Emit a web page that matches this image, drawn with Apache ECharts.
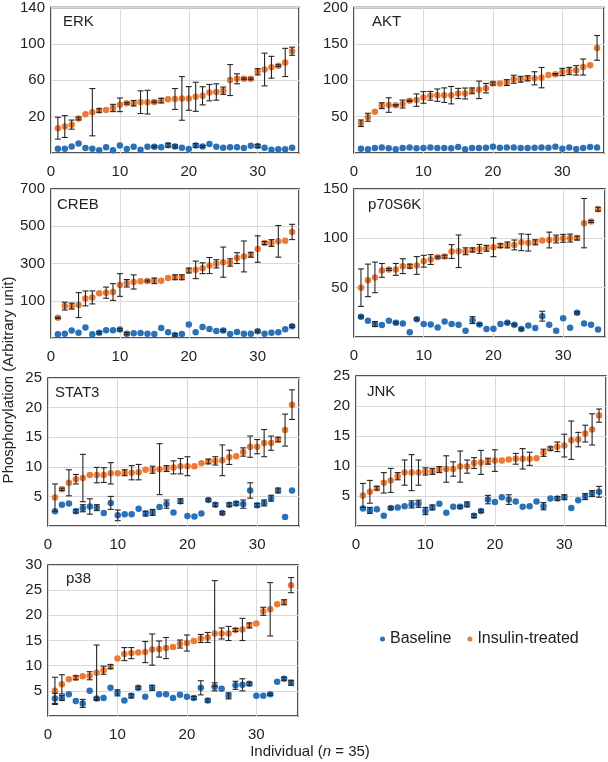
<!DOCTYPE html>
<html><head><meta charset="utf-8">
<script src="https://cdn.jsdelivr.net/npm/echarts@6/dist/echarts.min.js"></script>
<style>html,body{margin:0;padding:0;background:#fff}#c{width:608px;height:762px}</style>
</head><body><div id="c"></div>
<script>
const individuals = [1,2,3,4,5,6,7,8,9,10,11,12,13,14,15,16,17,18,19,20,21,22,23,24,25,26,27,28,29,30,31,32,33,34,35];
const panelNames = ['ERK','AKT','CREB','p70S6K','STAT3','JNK','p38'];
const seriesNames = ['Baseline','Insulin-treated'];

const erkIns = [7.3,9.1,11.2,17.9,22.5,24.9,26.7,27.4,29.5,33.0,34.8,34.8,35.9,35.9,36.2,37.6,39.0,39.4,40.0,40.0,41.8,42.9,46.4,47.1,48.5,60.2,61.6,61.6,61.6,69.3,71.8,74.3,76.0,79.6,91.9];
const erkInsErr = [12,12,5,1.5,0,26,2,0,4,7.5,1,3,12.5,13,1,2.5,0,11.5,24,13,16,10,9,9,4,17,5.5,1,1,3.5,18,12,1,15.5,4.5];
const erkBase = [-15.2,-15.2,-12.8,-9.6,-14.5,-15.2,-17,-13.8,-17,-11.7,-15.6,-13.1,-16.3,-13.1,-13.1,-13.8,-11.4,-12.8,-14.2,-15.6,-11.7,-12.8,-10,-13.1,-14.2,-13.8,-13.8,-14.5,-12.1,-12.4,-14.2,-16.3,-15.9,-15.9,-14.2];
const erkBaseErr = [0,0,0,0,0,0,0,0,0,0,0,0,0,0,1,0,2,1.5,0,0,2,1,0,0,0,0,0,0,0,1.5,0,0,0,0,0];

const aktIns = [40.9,49.1,56.8,65.0,65.9,65.5,67.3,71.8,72.7,76.4,78.6,79.5,79.5,79.5,81.8,81.8,85.5,86.8,89.1,95.5,95.5,96.8,101.4,101.4,102.7,102.7,103.6,107.3,108.2,111.4,112.7,113.6,118.2,120.5,144.5];
const aktInsErr = [4.5,5.5,0,4,10,1,5.5,1,8.5,8,6,8.5,10,12,7,7.5,4,12,6.5,2,0,4,5.5,4,3.5,9,14,0,1,5,5,6.5,11,0,17];
const aktBase = [5.9,5.0,6.8,7.7,6.4,5.0,6.8,7.7,6.4,6.8,7.7,6.8,6.8,6.4,8.2,5.0,6.8,6.8,7.3,8.6,7.3,7.7,7.7,6.8,6.8,7.3,7.7,7.3,8.6,5.9,7.7,5.5,6.8,8.2,7.7];
const aktBaseErr = [0,0,0,0,0,0,0,0,0,0,0,0,0,0,0,0,0,0,0,0,0,0,0,0,0,0,0,0,0,0,0,0,0,0,0];

const crebIns = [8.1,71.2,71.2,76.6,112.6,118.0,139.6,143.2,146.9,184.7,193.7,200.9,205,206,207,208,222.5,226.1,226.1,262.2,265.8,274.8,289.2,298.2,307.2,305.4,328.9,337.9,346.9,377.5,410.0,410.0,419.0,422.6,469.4];
const crebInsErr = [4,21,16,67,40,35,0,30,45,61,20,38,0,5,15,0,0,13,13,13,47,29,43,22,81,20,29,83,13,71,8,18,85,0,41];
const crebBase = [-80.2,-76.6,-60.4,-71.2,-44.2,-80.2,-71.2,-58.6,-58.6,-55.0,-76.6,-74.8,-73.0,-76.6,-78.4,-46.0,-69.4,-83.8,-78.4,-27.9,-69.4,-40.6,-51.4,-62.2,-60.4,-78.4,-67.6,-76.6,-76.6,-64.0,-76.6,-71.2,-69.4,-53.2,-37.0];
const crebBaseErr = [0,0,0,0,0,0,6,0,0,6,6,0,0,0,0,0,0,6,0,0,0,0,0,0,6,0,0,0,0,6,0,0,0,0,6];

const p70Ins = [50.0,57.4,60.4,67.5,68.5,68.5,71.8,71.8,72.5,76.8,78.5,80.9,81.5,86.6,86.9,86.9,88.3,89.3,89.9,90.9,92.6,93.3,93.3,96.0,95.6,96.0,97.7,98.3,99.3,100.0,100.3,100.3,115.4,117.1,129.5];
const p70InsErr = [19,16.5,15.5,7,1,6,7.5,2,9,6,5,1,1.5,7,16.5,3.5,2,4.5,3,9.5,2,3,5,8.5,8.5,2.5,0,8,4,4,4,2,25,1,2];
const p70Base = [20.5,16.4,13.1,12.1,16.4,14.4,13.8,4.7,18.1,13.1,12.7,9.7,15.8,13.1,12.4,6.4,17.1,12.7,8.0,8.4,13.1,14.4,12.4,8.0,11.7,9.1,21.1,12.4,6.4,19.1,9.4,24.5,13.8,12.4,7.7];
const p70BaseErr = [1,0,2.5,0,0,1,0,0,1,0,0,0,0,0,0,0,3.5,1,0,0,0,1,1,1,0,0,5,0,0,0,0,1,0,0,0];

const stat3Ins = [4.8,6.2,7.3,7.9,8.1,8.6,8.6,8.6,8.9,8.9,9.0,9.0,9.1,9.5,9.5,9.6,9.7,9.9,10.1,10.1,10.1,10.6,10.9,11.0,11.1,11.6,11.8,12.5,13.4,13.4,14.0,14.0,14.6,16.2,20.5];
const stat3InsErr = [2.3,0.2,2.2,0.8,4,0,1.3,1.25,1.8,0,0.5,1.2,1.3,0,0.6,4.3,0.5,1.1,1.3,1.6,0,0,0.4,0.7,2.6,1.2,0,0.7,1.8,1.2,2.3,1.2,0.4,2.7,2.5];
const stat3Base = [2.5,3.6,3.8,2.5,3.0,3.3,3.1,2.2,3.9,1.8,2.0,2.0,2.9,2.1,2.3,3.2,3.7,2.3,4.2,1.7,1.6,2.1,4.4,3.6,2.2,3.6,3.8,3.7,6.0,3.5,3.9,4.7,6.0,1.5,6.0];
const stat3BaseErr = [0,0,0,0.3,0.6,1.3,0.5,0,1.1,0.9,0,0,0,0.4,0.5,0,0.7,0,0.4,0,0,0,0.2,0.3,0.2,0.3,0.3,0.7,1.3,0.3,0.5,0.5,0.4,0,0];

const jnkIns = [5.1,5.7,6.3,7.2,7.6,8.3,8.9,8.9,8.9,9.1,9.1,9.4,9.5,9.5,9.9,9.9,10.5,10.6,10.8,10.9,10.9,11.1,11.2,11.2,11.2,11.3,12.2,12.9,13.2,13.4,14.3,14.4,15.4,16.1,18.4];
const jnkInsErr = [2,1.9,0.3,1.7,2,0.6,2.1,3,2.1,0.6,0.5,0.5,2.2,1.2,2.6,1.1,0.9,2,0.5,1.8,0,0,0.9,1.7,1.1,0,0.6,0.3,0.8,1.9,3.2,1.2,1.4,2.6,1.1];
const jnkBase = [2.9,2.6,2.8,1.7,3.0,3.1,3.3,3.6,3.7,2.5,3.1,3.7,2.2,3.2,3.2,3.6,1.7,2.5,4.4,4.0,4.8,4.4,4.1,3.2,3.3,4.1,3.3,4.6,4.6,4.8,3.0,4.3,4.9,5.4,5.7];
const jnkBaseErr = [0,0.5,0,0,0.2,0,0,0.6,0.6,0.6,0.4,0,0,0,0.2,0.4,0.3,0.2,0.7,0,0,0.8,0,0,0,0,0.6,0,0.3,0.4,0,0,0.5,0.5,0.9];

const p38Ins = [5.0,6.3,7.3,7.6,7.9,8.0,8.6,9.1,9.8,11.4,12.3,12.5,12.6,12.7,13.2,13.3,13.5,13.7,14.3,14.5,14.9,15.4,15.6,16.4,16.4,16.4,17.1,17.2,18.0,18.4,20.8,21.2,22.2,22.6,26.0];
const p38InsErr = [2.7,1.9,0,0.4,0,0.8,5.5,0.8,0.4,0,1.3,1.1,0,2.1,3.1,1.6,2.1,0,0.8,1.6,0,0.8,1,10.5,1.1,1.4,0.3,2.2,0.5,0,0.8,5.3,0,0.5,1.5];
const p38Base = [3.5,3.6,4.3,3.0,2.5,5.0,3.5,3.6,5.6,4.6,3.1,4.0,5.6,3.8,5.6,4.3,4.3,3.6,4.2,3.8,3.6,5.6,3.1,5.8,5.4,4.0,6.1,6.2,6.4,4.0,4.0,4.3,6.8,7.4,6.6];
const p38BaseErr = [1,0.5,0,0,0.8,0,0.2,0,0,0.6,0,0.4,0.3,0,0.5,0,0,0,0,0,0.3,1.4,0.3,0.8,0,0.6,0.8,1.2,0.3,0,0,0.2,0,0.3,0.5];

// y-axis ranges: [min, max, interval]
const yRanges = [[-20,140,40],[0,200,50],[-100,700,200],[0,150,50],[0,25,5],[0,25,5],[0,30,5]];
const xRange = [0,36,10];

const panelData = [
  [erkBase, erkBaseErr, erkIns, erkInsErr],
  [aktBase, aktBaseErr, aktIns, aktInsErr],
  [crebBase, crebBaseErr, crebIns, crebInsErr],
  [p70Base, p70BaseErr, p70Ins, p70InsErr],
  [stat3Base, stat3BaseErr, stat3Ins, stat3InsErr],
  [jnkBase, jnkBaseErr, jnkIns, jnkInsErr],
  [p38Base, p38BaseErr, p38Ins, p38InsErr]
];

// layout (pixels)
const grids = [
  {left:51, top:3, width:248, height:150},
  {left:354, top:4, width:250, height:149},
  {left:51, top:189, width:248, height:149},
  {left:354, top:189, width:251, height:148},
  {left:48, top:378, width:251, height:148},
  {left:356, top:376, width:250, height:150},
  {left:48, top:565, width:250, height:151}
];
const titlePos = [[63,22],[372,22],[57,205],[368,205],[55,393],[367,392],[66,579]];

const BLUE = '#2b71b8', ORANGE = '#ea7a35';
const FONT = 'Liberation Sans, Arial, sans-serif';

function errRender(params, api) {
  const x = api.value(0), lo = api.value(1), hi = api.value(2);
  const p1 = api.coord([x, hi]), p2 = api.coord([x, lo]);
  const w = 3;
  const st = {stroke:'#262626', lineWidth:1.1};
  return {type:'group', children:[
    {type:'line', shape:{x1:p1[0],y1:p1[1],x2:p2[0],y2:p2[1]}, style:st},
    {type:'line', shape:{x1:p1[0]-w,y1:p1[1],x2:p1[0]+w,y2:p1[1]}, style:st},
    {type:'line', shape:{x1:p2[0]-w,y1:p2[1],x2:p2[0]+w,y2:p2[1]}, style:st}
  ]};
}

const option = {
  animation:false,
  textStyle:{fontFamily:FONT},
  grid:[], xAxis:[], yAxis:[], series:[],
  legend:{
    data:seriesNames, left:375, top:626, icon:'circle', itemWidth:5, itemHeight:5, itemGap:16,
    textStyle:{fontSize:16, color:'#222', fontFamily:FONT}
  },
  graphic:[]
};

grids.forEach((g, k) => {
  option.grid.push(Object.assign({show:true, borderColor:'#1a1a1a', borderWidth:1.5, backgroundColor:'transparent'}, g));
  option.xAxis.push({
    type:'value', gridIndex:k, min:xRange[0], max:xRange[1], interval:xRange[2],
    axisLine:{show:false}, axisTick:{show:false},
    splitLine:{show:true, lineStyle:{color:'#d9d9d9', width:1}},
    axisLabel:{fontSize:15, color:'#222', margin:11, showMaxLabel:false, fontFamily:FONT}
  });
  const yr = yRanges[k];
  option.yAxis.push({
    type:'value', gridIndex:k, min:yr[0], max:yr[1], interval:yr[2],
    axisLine:{show:false}, axisTick:{show:false},
    splitLine:{show:true, lineStyle:{color:'#d9d9d9', width:1}},
    axisLabel:{fontSize:15, color:'#222', margin:6, showMinLabel:false, fontFamily:FONT}
  });
  const d = panelData[k];
  [[d[0], d[1], BLUE, seriesNames[0]], [d[2], d[3], ORANGE, seriesNames[1]]].forEach(([vals, errs, col, name]) => {
    option.series.push({
      type:'scatter', name:name, xAxisIndex:k, yAxisIndex:k, symbolSize:6.5,
      itemStyle:{color:col, opacity:1},
      data: individuals.map((x, i) => [x, vals[i]]), z:2
    });
    const ed = [];
    individuals.forEach((x, i) => { if (errs[i] > 0) ed.push([x, vals[i]-errs[i], vals[i]+errs[i]]); });
    option.series.push({
      type:'custom', xAxisIndex:k, yAxisIndex:k, renderItem:errRender,
      encode:{x:0, y:[1,2]}, data:ed, z:3, silent:true
    });
  });
  option.graphic.push({
    type:'text', x:titlePos[k][0], y:titlePos[k][1],
    style:{text:panelNames[k], font:'15px ' + FONT, fill:'#222', textVerticalAlign:'middle'}
  });
});

option.graphic.push({
  type:'text', x:9, y:380, rotation:Math.PI/2,
  style:{text:'Phosphorylation (Arbitrary unit)', font:'15px ' + FONT, fill:'#222', textAlign:'center', textVerticalAlign:'middle'}
});
option.graphic.push({
  type:'text', x:310, y:752,
  style:{
    text:'{a|Individual (}{i|n}{a| = 35)}',
    textAlign:'center', textVerticalAlign:'middle',
    rich:{a:{fontSize:15, fontFamily:FONT, fill:'#222'}, i:{fontSize:15, fontFamily:FONT, fontStyle:'italic', fill:'#222'}}
  }
});

const chart = echarts.init(document.getElementById('c'), null, {renderer:'canvas'});
chart.setOption(option);
</script></body></html>
